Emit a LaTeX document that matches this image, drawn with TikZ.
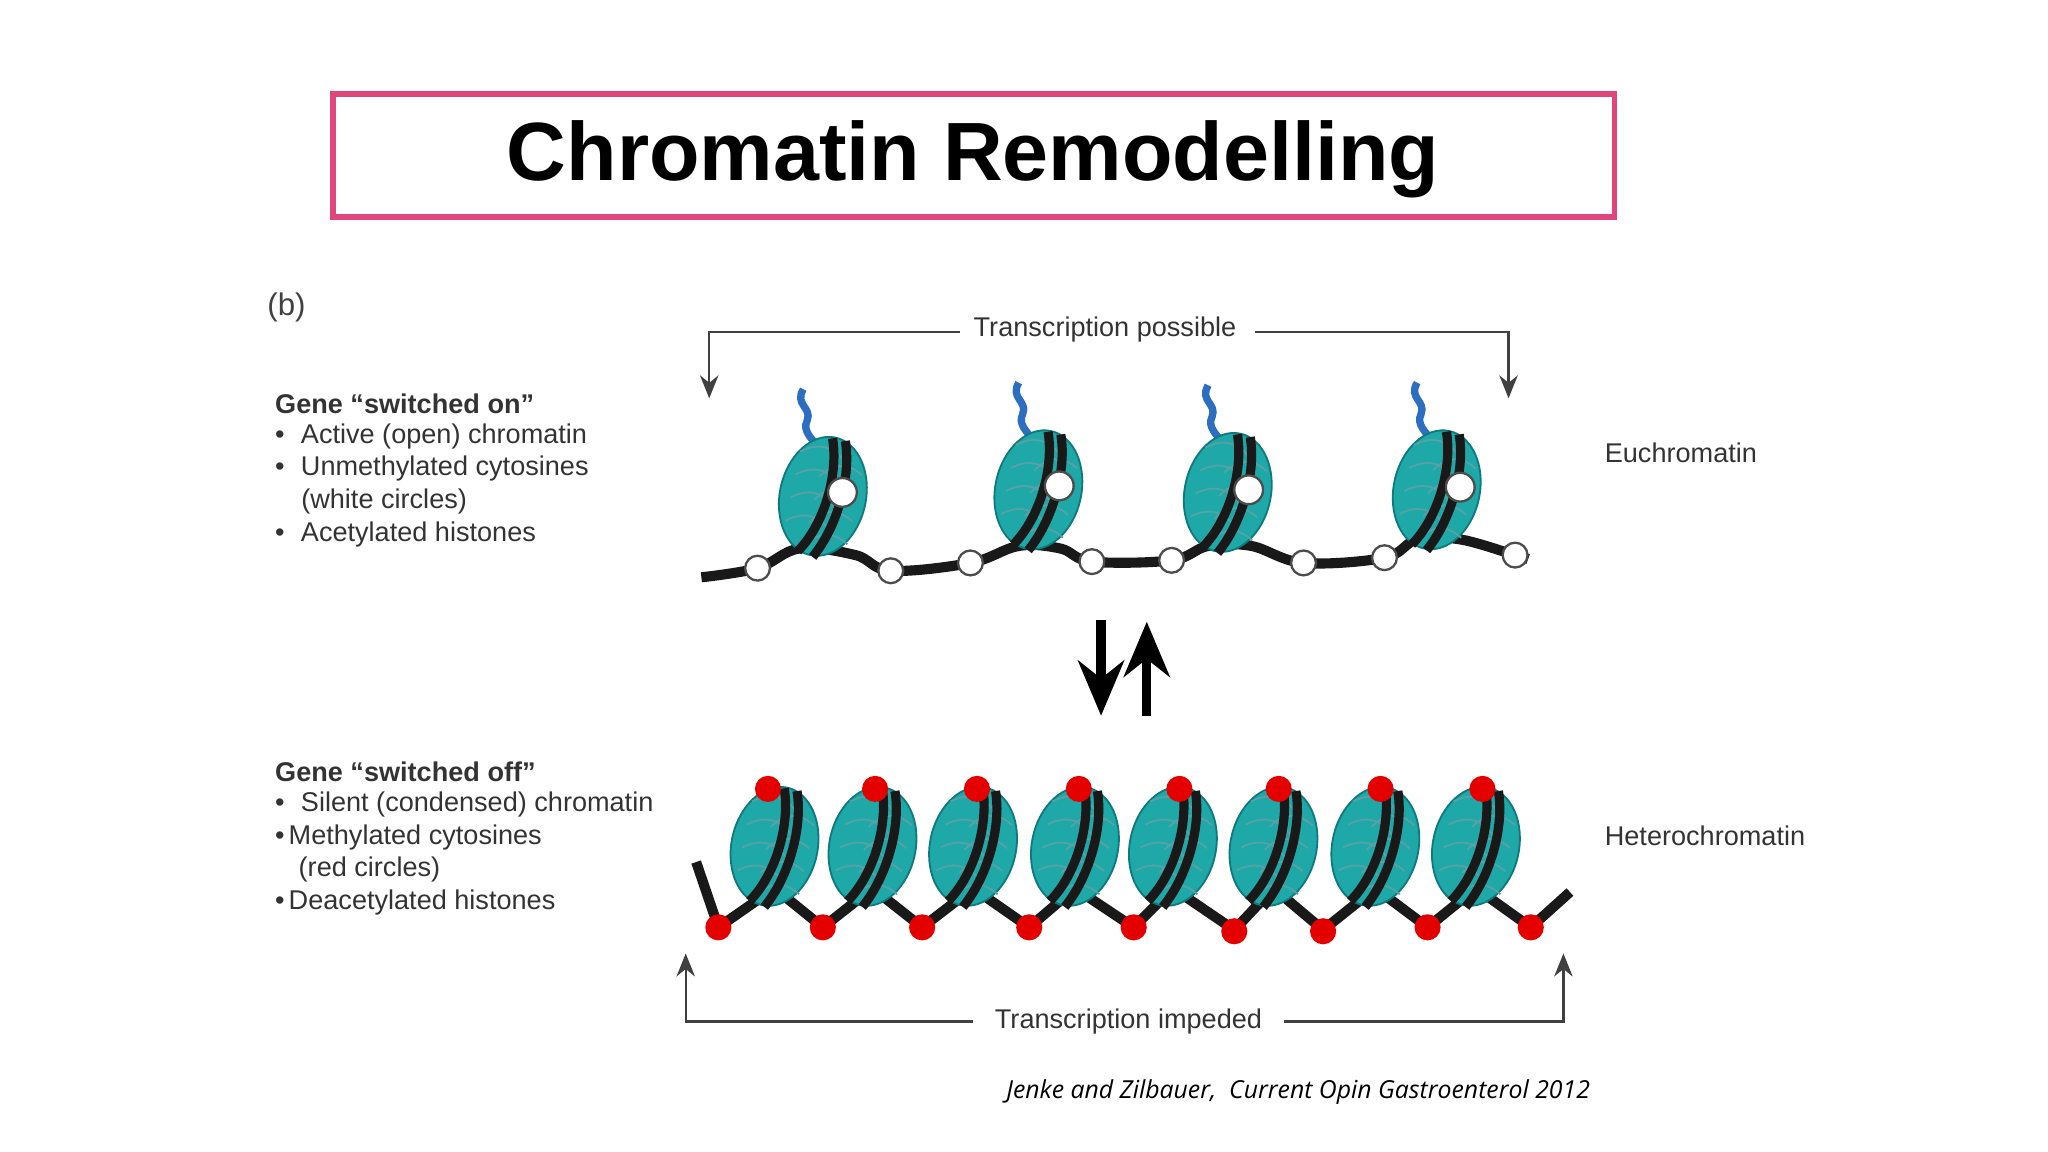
\documentclass[tikz,border=0pt]{standalone}
\usepackage{fontspec}
\usetikzlibrary{arrows.meta}
\setmainfont{Liberation Sans}
\newfontfamily\citefont{Open Sans}
\begin{document}
\begin{tikzpicture}[x=0.01cm,y=-0.01cm,
  lbl/.style={font=\fontsize{5.9pt}{7pt}\selectfont\color{black!80}, anchor=west, inner sep=0},
  wc/.style={circle, draw=black!70, fill=white, line width=0.5pt, minimum size=0.19cm, inner sep=0},
  rc/.style={circle, fill=red!90!black, minimum size=0.2cm, inner sep=0},
  dna/.style={line width=2.2pt, black!90},
  brk/.style={line width=0.5pt, black!75},
  tip/.style={-{Stealth[length=5pt,width=4pt]}}]
\useasboundingbox (0,0) rectangle (1568,882);
\definecolor{teal1}{HTML}{1FA8A8}
\definecolor{teal2}{HTML}{0E7A7E}
\definecolor{pinkb}{HTML}{E0457B}
\definecolor{tailc}{HTML}{2C6FC0}
\newcommand{\nucleo}[2]{%
 \begin{scope}[shift={(#1,#2)}, rotate=-12]
  \fill[teal1, draw=teal2, line width=0.4pt] (0,0) ellipse (33 and 46);
  \foreach \yy in {-30,-12,6,24}{
   \draw[teal2!70, line width=0.4pt] (-24,\yy) .. controls (-12,\yy-10) and (2,\yy-10) .. (14,\yy+4);
   \draw[teal2!70, line width=0.4pt] (-6,\yy+16) .. controls (2,\yy+4) and (12,\yy) .. (26,\yy+8);}
  \draw[dna, line width=2pt] (-10,45) .. controls (6,20) and (8,-20) .. (-2,-45);
  \draw[dna, line width=2pt] (2,47) .. controls (16,20) and (18,-20) .. (8,-45);
 \end{scope}}
% title
\draw[pinkb, line width=1.2pt] (255,72) rectangle (1236,166);
\node[font=\fontsize{18pt}{22pt}\selectfont\bfseries] (title) at (745,122) {Chromatin Remodelling};
\node[lbl, font=\fontsize{6.8pt}{8pt}\selectfont\color{black!75}] (b) at (204,235) {(b)};
% left texts
\node[lbl, font=\fontsize{5.9pt}{7pt}\selectfont\bfseries\color{black!80}] (on) at (210,309) {Gene “switched on”};
\node[lbl] (on1) at (210,334) {•\hspace{0.6em}Active (open) chromatin};
\node[lbl] (on2) at (210,359) {•\hspace{0.6em}Unmethylated cytosines};
\node[lbl] (on3) at (230,384) {(white circles)};
\node[lbl] (on4) at (210,409) {•\hspace{0.6em}Acetylated histones};
\node[lbl, font=\fontsize{5.9pt}{7pt}\selectfont\bfseries\color{black!80}] (off) at (210,591) {Gene “switched off”};
\node[lbl] (off1) at (210,616) {•\hspace{0.6em}Silent (condensed) chromatin};
\node[lbl] (off2) at (210,641) {•\hspace{0.15em}Methylated cytosines};
\node[lbl] (off3) at (228,666) {(red circles)};
\node[lbl] (off4) at (210,691) {•\hspace{0.15em}Deacetylated histones};
\node[lbl] (eu) at (1228,347) {Euchromatin};
\node[lbl] (het) at (1228,640) {Heterochromatin};
% top bracket
\node[lbl, anchor=center] (tp) at (846,252) {Transcription possible};
\coordinate (tl) at (543,305); \coordinate (tr) at (1155,305);
\draw[brk, tip] (tp.west) ++(-10,2) -- (543,254) -- (tl);
\draw[brk, tip] (tp.east) ++(14,2) -- (1155,254) -- (tr);
% bottom bracket
\node[lbl, anchor=center] (ti) at (864,782) {Transcription impeded};
\coordinate (bl) at (525,730); \coordinate (br) at (1197,730);
\draw[brk, tip] (ti.west) ++(-16,0) -- (525,782) -- (bl);
\draw[brk, tip] (ti.east) ++(16,0) -- (1197,782) -- (br);
% middle arrows
\coordinate (d1) at (843,475); \coordinate (d2) at (843,548);
\coordinate (u1) at (878,548); \coordinate (u2) at (878,476);
\draw[line width=2pt, -{Stealth[length=12pt,width=10pt]}] (d1) -- (d2);
\draw[line width=2pt, -{Stealth[length=12pt,width=10pt]}] (u1) -- (u2);
% euchromatin
\draw[dna] plot[smooth, tension=0.6] coordinates {(537,442) (580,435) (612,420) (655,425) (682,437) (743,431) (780,418) (812,420) (836,430) (897,429) (925,418) (958,418) (998,431) (1060,427) (1085,413) (1118,413) (1160,425) (1170,428)};
\foreach \x/\y in {630/380, 795/375, 940/377, 1100/375}{
  \draw[tailc, line width=1.6pt] (\x-15,\y-82) .. controls (\x-22,\y-70) and (\x-8,\y-68) .. (\x-12,\y-58) .. controls (\x-16,\y-50) and (\x-8,\y-44) .. (\x-4,\y-38);
  \nucleo{\x}{\y}
}
\foreach \x/\y in {645/377, 811/372, 956/375, 1118/373}{\node[wc, minimum size=0.22cm] at (\x,\y) {};}
\foreach \x/\y in {580/435, 682/437, 743/431, 836/430, 897/429, 998/431, 1060/427, 1160/425}{\node[wc] at (\x,\y) {};}
% heterochromatin
\draw[dna] (533,660) -- (550,710) -- (593,680) -- (630,710) -- (668,680) -- (706,710) -- (745,680) -- (788,710) -- (823,680) -- (868,710) -- (898,680) -- (945,712) -- (975,680) -- (1013,712) -- (1053,680) -- (1093,710) -- (1130,680) -- (1172,710) -- (1202,683);
\foreach \x in {593,668,745,823,898,975,1053,1130}{\nucleo{\x}{648}}
\foreach \x in {588,670,748,826,903,979,1057,1135}{\node[rc] at (\x,604) {};}
\foreach \x/\y in {550/710, 630/710, 706/710, 788/710, 868/710, 945/713, 1013/713, 1093/710, 1172/710}{\node[rc] at (\x,\y) {};}
\node[anchor=east, inner sep=0, font=\citefont\itshape\fontsize{5.4pt}{6pt}\selectfont] (cite) at (1218,836) {Jenke and Zilbauer,\ \ Current Opin Gastroenterol 2012};
\end{tikzpicture}
\end{document}
